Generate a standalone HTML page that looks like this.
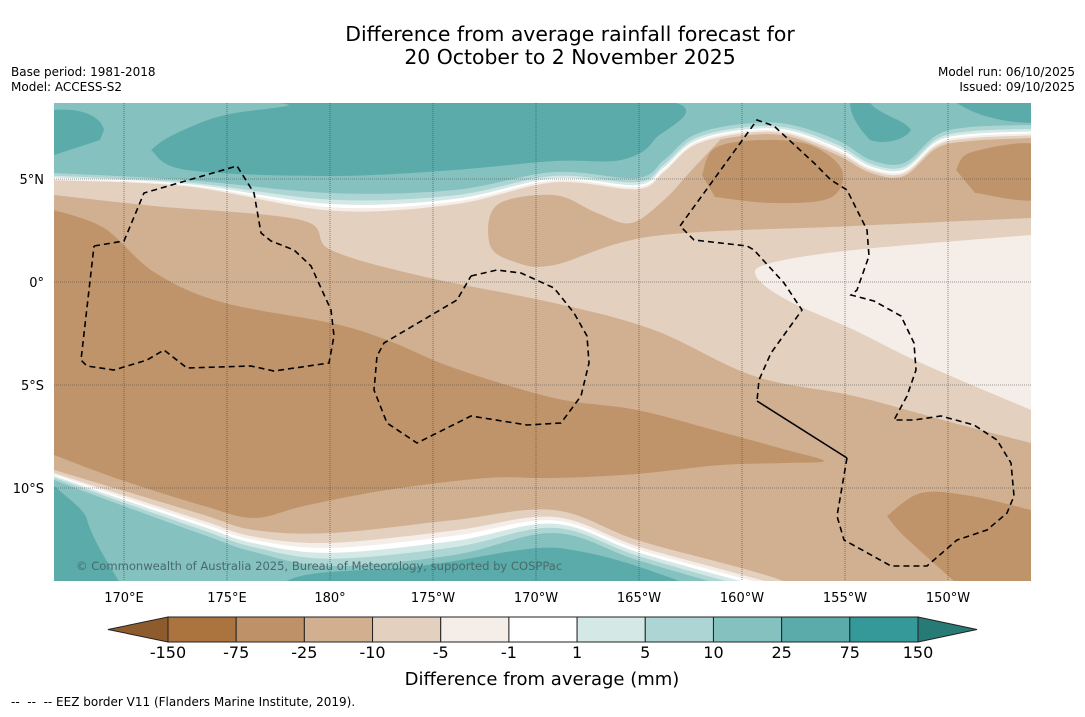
<!DOCTYPE html>
<html><head><meta charset="utf-8">
<style>
html,body{margin:0;padding:0;background:#fff;}
body{width:1085px;height:713px;overflow:hidden;font-family:"DejaVu Sans","Liberation Sans",sans-serif;}
svg text{font-family:"DejaVu Sans","Liberation Sans",sans-serif;}
</style></head>
<body>
<svg id="root" width="1085" height="713" viewBox="0 0 1085 713" xmlns="http://www.w3.org/2000/svg">
<defs><clipPath id="mapclip"><rect x="54" y="103" width="977" height="478"/></clipPath></defs>
<text x="570" y="41" text-anchor="middle" font-size="20.4">Difference from average rainfall forecast for</text>
<text x="570" y="64" text-anchor="middle" font-size="20.4">20 October to 2 November 2025</text>
<text x="11" y="76" font-size="12">Base period: 1981-2018</text>
<text x="11" y="91" font-size="12">Model: ACCESS-S2</text>
<text x="1075" y="76" font-size="12" text-anchor="end">Model run: 06/10/2025</text>
<text x="1075" y="91" font-size="12" text-anchor="end">Issued: 09/10/2025</text>
<g id="map" clip-path="url(#mapclip)"></g>
<g id="axes"></g>
<g id="cbar"></g>
<text x="542" y="685" text-anchor="middle" font-size="18">Difference from average (mm)</text>
<text x="11" y="706" font-size="12" xml:space="preserve">--  --  -- EEZ border V11 (Flanders Marine Institute, 2019).</text>
</svg>
<script>
// colorbar data
const levelLabels = ["-150","-75","-25","-10","-5","-1","1","5","10","25","75","150"];
const levelColors = ["#ab743f","#bf9168","#d1af8f","#e3d0bf","#f5ede8","#ffffff","#d4e8e6","#acd5d3","#84c1bf","#5aabaa","#35999a"];
const lonTicks = ["170°E","175°E","180°","175°W","170°W","165°W","160°W","155°W","150°W"];
const lonValues = [170,175,180,185,190,195,200,205,210];
const latTicks = ["5°N","0°","5°S","10°S"];
const latValues = [5,0,-5,-10];

const NS="http://www.w3.org/2000/svg";
const mapG=document.getElementById('map');
const axG=document.getElementById('axes');
const cbG=document.getElementById('cbar');
const xLon=l=>124+(l-170)*20.6;
const yLat=l=>282-l*20.6;
function mk(tag,attrs,parent){const e=document.createElementNS(NS,tag);for(const k in attrs)e.setAttribute(k,attrs[k]);parent.appendChild(e);return e;}
function smooth(p){let d='';for(let i=0;i<p.length-1;i++){const p0=p[Math.max(0,i-1)],p1=p[i],p2=p[i+1],p3=p[Math.min(p.length-1,i+2)];
const c1=[p1[0]+(p2[0]-p0[0])/6,p1[1]+(p2[1]-p0[1])/6],c2=[p2[0]-(p3[0]-p1[0])/6,p2[1]-(p3[1]-p1[1])/6];
d+=` C${c1[0].toFixed(1)},${c1[1].toFixed(1)} ${c2[0].toFixed(1)},${c2[1].toFixed(1)} ${p2[0]},${p2[1]}`;}return d;}
function closedSmooth(p){return 'M'+p[0][0]+','+p[0][1]+smooth(p)+' Z';}
function fillAbove(p,col,name){const d='M'+p[0][0]+','+p[0][1]+smooth(p)+` L1040,${p[p.length-1][1]} L1040,95 L45,95 L45,${p[0][1]} Z`;
const e=mk('path',{d:d,fill:col},mapG);}
function fillBelow(p,col,name){const d='M'+p[0][0]+','+p[0][1]+smooth(p)+` L${p[p.length-1][0]},600 L45,600 Z`;
const e=mk('path',{d:d,fill:col},mapG);}
function shape(d,col,name){const e=mk('path',{d:d,fill:col},mapG);}
const C={m75:"#c0946a",m25:"#d1b091",m10:"#e3d0bf",m5:"#f4ede8",w:"#ffffff",p1:"#d4e8e6",p5:"#acd5d3",p10:"#84c1bf",p25:"#5babaa"};

const bg=mk('rect',{x:54,y:103,width:977,height:478,fill:C.m25},mapG);

shape('M54,103 L54,195'+smooth([[54,195],[154,206],[301,220],[331,250],[421,276],[554,303],[654,330],[754,376],[854,396],[954,423],[1031,443]])+
' L1031,218'+smooth([[1031,218],[854,226],[654,236],[554,265],[515,262],[490,245],[497,205],[554,195],[597,213],[631,223],[664,200],[690,172],[720,140]])+' L720,103 Z',C.m10,'region-minus10');
shape('M1031,235'+smooth([[1031,235],[854,250],[771,263],[756,276],[787,300],[854,330],[921,363],[1031,410]])+' Z',C.m5,'region-minus5');
shape(closedSmooth([[54,210],[104,228],[154,272],[221,302],[331,323],[387,340],[454,368],[554,398],[637,410],[721,432],[787,450],[824,461],[787,463],[721,465],[637,474],[554,478],[487,478],[387,490],[304,506],[254,518],[204,506],[121,480],[54,455]]),C.m75,'region-minus75-band');
shape(closedSmooth([[702,175],[715,148],[760,140],[810,145],[842,170],[830,198],[772,203],[715,197]]),C.m75,'region-minus75-north');
shape(closedSmooth([[956,170],[972,152],[1040,146],[1040,198],[975,193]]),C.m75,'region-minus75-northeast');
shape('M887,516'+smooth([[887,516],[921,493],[971,496],[1031,510]])+' L1031,581 L954,581'+smooth([[954,581],[904,536],[887,516]])+' Z',C.m75,'region-minus75-southeast');

const Nb=[[54,182],[187,188],[331,215],[454,208],[554,185],[637,192],[664,175],[694,148],[741,136],[787,136],[837,155],[871,173],[904,176],[937,148],[971,141],[1031,138]];
const N10=[[54,173],[187,180],[331,193],[454,190],[554,172],[637,178],[664,160],[694,135],[741,124],[787,124],[837,140],[871,160],[904,163],[937,135],[971,127],[1031,125]];
const lerp=(a,b,t)=>a.map((p,i)=>[p[0],+(p[1]+(b[i][1]-p[1])*t).toFixed(1)]);
fillAbove(Nb,C.m10,'north-band-minus10');
fillAbove(lerp(Nb,N10,0.2),C.m5,'north-band-minus5');
fillAbove(lerp(Nb,N10,0.35),C.w,'north-band-white');
fillAbove(lerp(Nb,N10,0.5),C.p1,'north-band-plus1');
fillAbove(lerp(Nb,N10,0.7),C.p5,'north-band-plus5');
fillAbove(N10,C.p10,'north-band-plus10');
shape('M54,110 C80,108 100,115 104,130 L100,140 L54,155 Z',C.p25,'north-region-plus25-west');
shape('M151,150'+smooth([[151,150],[171,136],[221,116],[287,106],[300,100],[660,100],[654,140],[621,160],[554,161],[454,170],[331,176],[187,170],[151,150]])+' Z',C.p25,'north-region-plus25-center');
shape('M870,103 C880,115 905,120 911,130 C905,140 885,145 870,140 C860,130 850,115 850,103 Z',C.p25,'north-region-plus25-east');
shape('M957,103 C975,115 1000,122 1031,123 L1031,103 Z',C.p25,'north-region-plus25-far-east');

const Sb=[[54,470],[121,490],[204,515],[254,530],[331,533],[454,520],[554,510],[637,540],[741,568],[787,583],[800,600]];
const S10=[[54,480],[121,505],[204,535],[254,552],[331,566],[454,555],[554,533],[637,560],[741,590],[787,600],[800,615]];
fillBelow(Sb,C.m10,'south-band-minus10');
fillBelow(lerp(Sb,S10,0.3),C.m5,'south-band-minus5');
fillBelow(lerp(Sb,S10,0.45),C.w,'south-band-white');
fillBelow(lerp(Sb,S10,0.6),C.p1,'south-band-plus1');
fillBelow(lerp(Sb,S10,0.78),C.p5,'south-band-plus5');
fillBelow(S10,C.p10,'south-band-plus10');
shape('M54,486 C70,500 85,510 87,520 C95,545 110,565 121,585 L50,585 Z',C.p25,'south-region-plus25-west');
shape('M280,585 C300,570 340,572 400,568 C470,562 520,545 560,548 C610,555 650,570 690,585 Z',C.p25,'south-region-plus25-center');

lonValues.forEach(v=>{const x=xLon(v);const l=mk('line',{x1:x,x2:x,y1:103,y2:581,stroke:'#444','stroke-width':0.6,'stroke-dasharray':'1,1'},mapG);
});
latValues.forEach(v=>{const y=yLat(v);const l=mk('line',{x1:54,x2:1031,y1:y,y2:y,stroke:'#444','stroke-width':0.6,'stroke-dasharray':'1,1'},mapG);
});

function eez(pts,name,dash){const e=mk('polyline',{points:pts.map(p=>p.join(',')).join(' '),fill:'none',stroke:'#000','stroke-width':1.6,'stroke-dasharray':dash?'6,4':'none'},mapG);
}
eez([[94,246],[124,241],[144,193],[237,166],[254,193],[261,233],[271,241],[294,250],[311,266],[331,310],[334,336],[329,363],[274,371],[251,366],[187,368],[164,350],[147,360],[114,370],[87,366],[81,360],[94,246]],'eez-border-west',true);
eez([[471,276],[497,270],[521,273],[554,288],[574,313],[587,336],[589,363],[581,396],[561,423],[527,425],[471,416],[417,443],[387,423],[374,390],[377,356],[384,343],[457,300],[471,276]],'eez-border-center',true);
eez([[847,458],[837,516],[844,540],[891,566],[927,566],[957,540],[987,530],[1007,513],[1014,496],[1011,463],[997,440],[974,425],[941,416],[914,420],[894,420],[907,396],[916,370],[914,343],[901,316],[874,301],[851,295],[857,290],[869,256],[867,230],[847,190],[831,180],[814,163],[774,126],[757,120],[680,226],[694,240],[747,246],[754,250],[784,283],[802,310],[771,353],[759,380],[757,401]],'eez-border-east',true);
eez([[757,401],[847,458]],'eez-border-east-solid',false);

const cp=mk('text',{x:76,y:570,'font-size':11.55,fill:'#4a6a6a'},mapG);
cp.textContent='© Commonwealth of Australia 2025, Bureau of Meteorology, supported by COSPPac';


lonTicks.forEach((t,i)=>{const e=mk('text',{x:xLon(lonValues[i]),y:602,'text-anchor':'middle','font-size':13},axG);e.textContent=t;
});
latTicks.forEach((t,i)=>{const e=mk('text',{x:44,y:yLat(latValues[i])+5,'text-anchor':'end','font-size':13},axG);e.textContent=t;
});

const cbX0=168,cbX1=918,cbY=617,cbH=25;const cw=(cbX1-cbX0)/(levelLabels.length-1);
const lt=mk('polygon',{points:`${cbX0},${cbY} 108,${cbY+cbH/2} ${cbX0},${cbY+cbH}`,fill:'#8e5b2c',stroke:'#222','stroke-width':1},cbG);

const rt=mk('polygon',{points:`${cbX1},${cbY} 977,${cbY+cbH/2} ${cbX1},${cbY+cbH}`,fill:'#287a77',stroke:'#222','stroke-width':1},cbG);

levelColors.forEach((c,i)=>{const r=mk('rect',{x:cbX0+i*cw,y:cbY,width:cw,height:cbH,fill:c,stroke:'#222','stroke-width':1},cbG);
});
levelLabels.forEach((t,i)=>{const e=mk('text',{x:cbX0+i*cw,y:658,'text-anchor':'middle','font-size':16},cbG);e.textContent=t;
});
</script>
</body></html>
